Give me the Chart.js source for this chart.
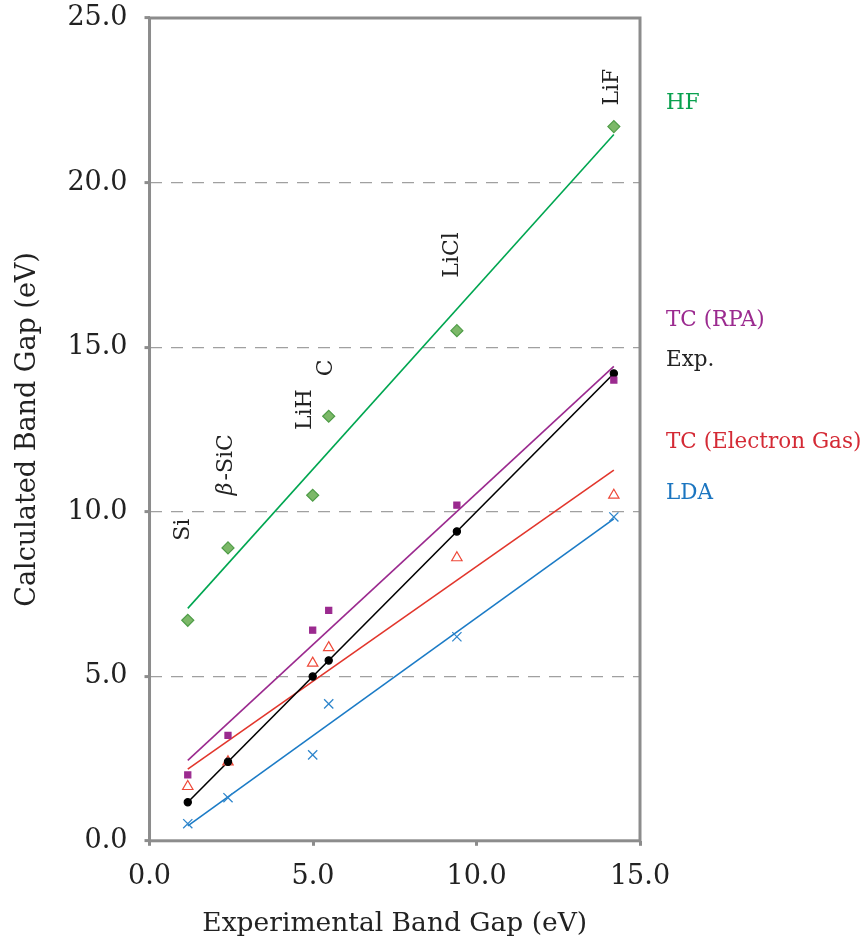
<!DOCTYPE html>
<html>
<head>
<meta charset="utf-8">
<script src="https://cdn.jsdelivr.net/npm/chart.js@4"></script>
<style>
  html, body { margin: 0; padding: 0; background: #fff; }
  #wrap { width: 866px; height: 943px; }
</style>
</head>
<body>
<div id="wrap"><canvas id="myChart"></canvas></div>
<script>
// materials and band gaps (eV)
const materials = ['Si', 'β-SiC', 'LiH', 'C', 'LiCl', 'LiF'];
const expGap = [1.17, 2.4, 4.99, 5.48, 9.4, 14.2];
const hfGap = [6.7, 8.9, 10.5, 12.9, 15.5, 21.7];
const rpaGap = [2.0, 3.2, 6.4, 7.0, 10.2, 14.0];
const egGap = [1.65, 2.4, 5.4, 5.87, 8.6, 10.5];
const ldaGap = [0.52, 1.31, 2.61, 4.16, 6.2, 9.84];
const yTicks = [0, 5, 10, 15, 20, 25];
const xTicks = [0, 5, 10, 15];

const SERIF = '"DejaVu Serif", "Liberation Serif", serif';
const GRAY = '#8c8c8c';

const points = (ys) => expGap.map((x, i) => ({ x: x, y: ys[i] }));

// least squares trend line over the data range
function trend(ys) {
  const n = expGap.length;
  const mx = expGap.reduce((a, b) => a + b, 0) / n;
  const my = ys.reduce((a, b) => a + b, 0) / n;
  let sxy = 0, sxx = 0;
  for (let i = 0; i < n; i++) {
    sxy += (expGap[i] - mx) * (ys[i] - my);
    sxx += (expGap[i] - mx) * (expGap[i] - mx);
  }
  const m = sxy / sxx, b = my - m * mx;
  const x0 = Math.min(...expGap), x1 = Math.max(...expGap);
  return [{ x: x0, y: m * x0 + b }, { x: x1, y: m * x1 + b }];
}

const series = [
  { name: 'HF', ys: hfGap, line: '#00a651', fill: '#7cb868', border: '#4f9d48', style: 'rectRot', r: 6 },
  { name: 'TC (RPA)', ys: rpaGap, line: '#9b2a8f', fill: '#9b2a8f', border: '#9b2a8f', style: 'rect', r: 4.3 },
  { name: 'Exp.', ys: expGap, line: '#000000', fill: '#000000', border: '#000000', style: 'circle', r: 3.6 },
  { name: 'TC (Electron Gas)', ys: egGap, line: '#e2362c', fill: '#ffffff', border: '#ee4a3a', style: 'triangle', r: 6 },
  { name: 'LDA', ys: ldaGap, line: '#1b7bc6', fill: '#2f86cc', border: '#2f86cc', style: 'crossRot', r: 6.5 }
];

const datasets = [];
series.forEach(s => {
  datasets.push({
    label: s.name + ' trend', data: trend(s.ys), showLine: true,
    borderColor: s.line, borderWidth: 1.6, pointRadius: 0, order: 2
  });
});
series.forEach(s => {
  datasets.push({
    label: s.name, data: points(s.ys), showLine: false,
    pointStyle: s.style, pointRadius: s.r, pointBackgroundColor: s.fill,
    pointBorderColor: s.border, pointBorderWidth: s.style === 'crossRot' ? 1.3 : 1.2, order: 1
  });
});

// text annotations: material names (rotated) and series names at right
const matLabelPos = [[1.04, 9.45], [2.35, 11.4], [4.77, 13.1], [5.41, 14.37], [9.26, 17.8], [14.15, 22.9]];
const seriesLabelY = [22.4, 15.8, 14.6, 12.1, 10.55];
const seriesLabelColor = ['#0aa14f', '#9b2a8f', '#222222', '#d42a35', '#1b75c0'];

const labelsPlugin = {
  id: 'labels',
  afterDraw(chart) {
    const { ctx, chartArea: a, scales } = chart;
    ctx.save();
    // plot frame
    ctx.strokeStyle = GRAY;
    ctx.lineWidth = 3;
    ctx.strokeRect(a.left, a.top, a.right - a.left, a.bottom - a.top);
    // material names
    ctx.fillStyle = '#222';
    ctx.textBaseline = 'middle';
    materials.forEach((m, i) => {
      const px = scales.x.getPixelForValue(matLabelPos[i][0]);
      const py = scales.y.getPixelForValue(matLabelPos[i][1]);
      ctx.save();
      ctx.translate(px, py);
      ctx.rotate(-Math.PI / 2);
      if (m.startsWith('β')) {
        ctx.font = 'italic 22px ' + SERIF;
        const w1 = ctx.measureText('β').width;
        ctx.font = '22px ' + SERIF;
        const rest = m.slice(1);
        const w2 = ctx.measureText(rest).width;
        ctx.textAlign = 'left';
        ctx.font = 'italic 22px ' + SERIF;
        ctx.fillText('β', -(w1 + w2) / 2, 0);
        ctx.font = '22px ' + SERIF;
        ctx.fillText(rest, -(w1 + w2) / 2 + w1 + 2, 0);
      } else {
        ctx.font = '22px ' + SERIF;
        ctx.textAlign = 'center';
        ctx.fillText(m, 0, 0);
      }
      ctx.restore();
    });
    // series names
    ctx.font = '21.5px ' + SERIF;
    ctx.textAlign = 'left';
    series.forEach((s, i) => {
      ctx.fillStyle = seriesLabelColor[i];
      ctx.fillText(s.name, a.right + 26, scales.y.getPixelForValue(seriesLabelY[i]));
    });
    ctx.restore();
  }
};

const config = {
  type: 'scatter',
  data: { datasets },
  options: {
    responsive: true,
    maintainAspectRatio: false,
    animation: false,
    layout: { padding: { left: 8, right: 226, top: 0, bottom: -1 } },
    plugins: { legend: { display: false }, tooltip: { enabled: false } },
    scales: {
      x: {
        type: 'linear', min: 0, max: 15,
        afterBuildTicks: (s) => { s.ticks = xTicks.map(v => ({ value: v })); },
        ticks: { callback: v => v.toFixed(1), color: '#222', font: { family: SERIF, size: 27 }, padding: 15 },
        grid: { drawOnChartArea: false, drawTicks: true, tickLength: 5, tickColor: GRAY, tickWidth: 3 },
        border: { display: false },
        title: { display: true, text: 'Experimental Band Gap (eV)', color: '#222', font: { family: SERIF, size: 26.5 }, padding: { top: 0 } }
      },
      y: {
        type: 'linear', min: 0, max: 25,
        afterBuildTicks: (s) => { s.ticks = yTicks.map(v => ({ value: v })); },
        afterFit: (s) => { s.paddingTop = 18; s.paddingBottom = 16; },
        ticks: { callback: v => v.toFixed(1), color: '#222', font: { family: SERIF, size: 27 }, padding: 17 },
        grid: {
          color: ctx => (ctx.tick && (ctx.tick.value === 0 || ctx.tick.value === 25)) ? 'rgba(0,0,0,0)' : '#a0a0a0',
          lineWidth: 1.2, drawTicks: true, tickLength: 5, tickColor: GRAY, tickWidth: 3, tickBorderDash: []
        },
        border: { display: false, dash: [12, 9] },
        title: { display: true, text: 'Calculated Band Gap (eV)', color: '#222', font: { family: SERIF, size: 27 }, padding: { bottom: 6 } }
      }
    }
  },
  plugins: [labelsPlugin]
};

const myChart = new Chart(document.getElementById('myChart'), config);
</script>
</body>
</html>
